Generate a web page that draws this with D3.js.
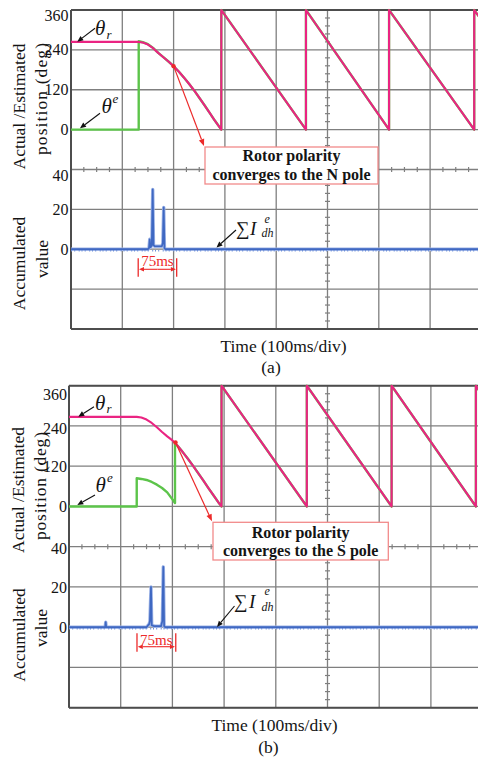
<!DOCTYPE html>
<html><head><meta charset="utf-8">
<script src="https://cdn.jsdelivr.net/npm/d3@7"></script>
<style>
html,body{margin:0;padding:0;background:#fff;}
svg{display:block;}
text{font-family:'Liberation Serif','Times New Roman',serif;}
</style></head><body>
<script>
// Scope time base: 10 divisions of 100 ms
const timeDomain = [0, 1000];
const timeDiv = 100;
const positionTicks = [0, 120, 240, 360];
const accumTicks = [0, 20, 40];
const windowMs = 75;

// (a) estimated polarity converges to the N pole  [time ms, angle deg]
const thetaR_A = [[0,264],[130,264],[140,262],[150,256],[160,245],[170,231],[180,218],[190,205],[200,191],[210,175],[220,157],[230,138],[240,118],[250,96],[260,74],[270,51],[280,28],[293,0],[293,360],[458,0],[458,360],[620,0],[620,360],[786,0],[786,360],[800,330]];
const thetaE_A = [[0,0],[132,0],[132,266],[140,263],[150,257],[160,246],[170,231],[180,218],[190,205],[200,191],[210,175],[220,157],[230,138],[240,118],[250,96],[260,74],[270,51],[280,28],[293,0],[293,360],[458,0],[458,360],[620,0],[620,360],[786,0],[786,360],[800,330]];
const accum_A = [[0,0],[150,0],[152,0.5],[153.5,5],[155,1],[157.5,2],[159.3,30],[160.8,2],[163,1.5],[172,1.5],[177,1.5],[179,3],[180.7,21],[182.2,0.5],[184,0],[1000,0]];

// (b) estimated polarity converges to the S pole
const thetaR_B = [[0,267],[131,267],[140,265],[150,259],[160,249],[170,236],[180,222],[190,209],[200,197],[210,181],[220,162],[230,142],[240,121],[250,99],[260,77],[270,54],[280,32],[290,10],[295,0],[295,360],[460,0],[460,360],[624,0],[624,360],[787,0],[787,360],[800,331]];
const thetaE_B = [[0,0],[131,0],[131,84],[140,82],[150,79],[160,73],[170,65],[180,55],[190,42],[200,21],[205,10],[205,189],[210,181],[220,162],[230,142],[240,121],[250,99],[260,77],[270,54],[280,32],[290,10],[295,0],[295,360],[460,0],[460,360],[624,0],[624,360],[787,0],[787,360],[800,331]];
const accum_B = [[0,0],[70,0],[71,2.5],[72,0],[150,0],[153,1],[155,1.5],[156.5,3],[158.6,20],[160,1],[165,0.5],[178,0.5],[180.5,3],[182.4,30],[184,0.5],[186,0],[1000,0]];

const W = 478, H = 761;
const svg = d3.select('body').append('svg').attr('width', W).attr('height', H);
svg.append('rect').attr('width', W).attr('height', H).attr('fill', '#fff');

const C = {
  grid: '#7f7f7f', frame: '#4d4d4d', green: '#5cc44a', magenta: '#ea2482',
  blue: '#3f68c2', blueHalo: '#9db3e6', red: '#ec2a2a', boxStroke: '#f28a8a', ink: '#141414'
};

const panels = [
  { id: 'a', left: 71, top: 10, dx: 51.3, dy: 39.87,
    thetaR: thetaR_A, thetaE: thetaE_A, accum: accum_A, polarity: 'N',
    tickPad: 2.5, nudge: { pos: { 360: 5 }, acc: { 40: 5.5 } },
    titles: { actual: [24.5, 106.5], position: [47, 99, 112], accumulated: [25, 263.5], value: [47.5, 259] },
    time: [283.5, 352], caption: ['(a)', 271, 373],
    thR: { th: [95, 35], sub: [106.5, 38.5], arrow: [95, 28.3, 77.3, 41.7] },
    thE: { th: [101.5, 113], sup: [112.5, 103], arrow: [100, 113.3, 80, 128.3] },
    sigma: { s: [236, 235], I: [250, 235], sup: [264.5, 223], sub: [261.5, 237], arrow: [236, 230, 216.5, 247.5] },
    box: [205, 147, 173, 37, 161, 179.5], conv: [200, 191],
    bracket: { start: 131, y1: 258.3, y2: 276.7, yl: 269.3, yt: 265.5 } },
  { id: 'b', left: 69, top: 385.7, dx: 51.7, dy: 40.25,
    thetaR: thetaR_B, thetaE: thetaE_B, accum: accum_B, polarity: 'S',
    tickPad: 2, nudge: { pos: { 360: 9, 240: 2 }, acc: { 40: 2 } },
    titles: { actual: [24, 490], position: [46, 486, 108], accumulated: [25, 635], value: [46.5, 628] },
    time: [274.5, 731], caption: ['(b)', 268.5, 753],
    thR: { th: [95, 410], sub: [106.5, 413], arrow: [94, 406.7, 78.3, 416.7] },
    thE: { th: [95.5, 492], sup: [107, 482], arrow: [95, 495, 77.3, 505] },
    sigma: { s: [234, 608], I: [249, 608], sup: [264.5, 594.5], sub: [261.5, 610.5], arrow: [234.5, 606, 217, 627] },
    box: [213, 522.3, 175.3, 37.7, 537.5, 555.5], conv: [206, 191],
    bracket: { start: 131.5, y1: 633.3, y2: 651.7, yl: 646.7, yt: 644.5 } }
];

function arrowHead(g, x1, y1, x2, y2, color, len, half) {
  const a = Math.atan2(y2 - y1, x2 - x1);
  const bx = x2 - len * Math.cos(a), by = y2 - len * Math.sin(a);
  const px = -Math.sin(a) * half, py = Math.cos(a) * half;
  g.append('path')
    .attr('d', `M${x2},${y2}L${bx + px},${by + py}L${bx - px},${by - py}Z`)
    .attr('fill', color);
  return [bx, by];
}

function arrow(g, x1, y1, x2, y2, color, width, len, half) {
  const [bx, by] = arrowHead(g, x1, y1, x2, y2, color, len, half);
  g.append('line').attr('x1', x1).attr('y1', y1).attr('x2', bx).attr('y2', by)
    .attr('stroke', color).attr('stroke-width', width);
}

function drawPanel(p) {
  const g = svg.append('g');
  const PW = 10 * p.dx, PH = 8 * p.dy;
  const x = d3.scaleLinear().domain(timeDomain).range([p.left, p.left + PW]);
  const row = d3.scaleLinear().domain([0, 8]).range([p.top, p.top + PH]);
  const yPos = d3.scaleLinear().domain([0, 360]).range([row(3), row(0)]);
  const yAcc = d3.scaleLinear().domain([0, 40]).range([row(6), row(4)]);

  // grid
  const grid = g.append('g');
  grid.selectAll('line.v').data(d3.range(timeDomain[0], timeDomain[1] + 1, timeDiv)).join('line')
    .attr('x1', d => x(d)).attr('x2', d => x(d)).attr('y1', row(0)).attr('y2', row(8))
    .attr('stroke', C.grid).attr('stroke-width', 1.3);
  grid.selectAll('line.h').data(d3.range(0, 9)).join('line')
    .attr('x1', x(0)).attr('x2', x(1000)).attr('y1', d => row(d)).attr('y2', d => row(d))
    .attr('stroke', C.grid).attr('stroke-width', 1.3);
  // frame
  [[x(0), row(0), x(1000), row(0)], [x(0), row(8), x(1000), row(8)], [x(0), row(0), x(0), row(8)]]
    .forEach(s => grid.append('line').attr('x1', s[0]).attr('y1', s[1]).attr('x2', s[2]).attr('y2', s[3])
      .attr('stroke', C.frame).attr('stroke-width', 2));
  // minor ticks on the centre axes
  const cx = x(500), cy = row(4);
  grid.selectAll('line.mx').data(d3.range(0, 1001, 25).filter(t => t % 100)).join('line')
    .attr('x1', d => x(d)).attr('x2', d => x(d)).attr('y1', cy - 2.5).attr('y2', cy + 2.5)
    .attr('stroke', C.grid).attr('stroke-width', 1.2);
  grid.selectAll('line.my').data(d3.range(0, 40).filter(i => i % 5).map(i => i / 5)).join('line')
    .attr('x1', cx - 2.5).attr('x2', cx + 2.5).attr('y1', d => row(d)).attr('y2', d => row(d))
    .attr('stroke', C.grid).attr('stroke-width', 1.2);

  // traces
  const clipId = 'clip-' + p.id;
  g.append('clipPath').attr('id', clipId).append('rect')
    .attr('x', x(0)).attr('y', row(0) - 1.5).attr('width', PW).attr('height', PH + 1.5);
  const tr = g.append('g').attr('clip-path', `url(#${clipId})`);
  const posLine = d3.line().x(d => x(d[0])).y(d => yPos(d[1]));
  const accLine = d3.line().x(d => x(d[0])).y(d => yAcc(d[1]));
  tr.append('path').attr('d', posLine(p.thetaE)).attr('fill', 'none')
    .attr('stroke', C.green).attr('stroke-width', 2.4).attr('stroke-linejoin', 'round');
  tr.append('path').attr('d', posLine(p.thetaR)).attr('fill', 'none')
    .attr('stroke', C.magenta).attr('stroke-width', 2.1).attr('stroke-linejoin', 'round');
  tr.append('path').attr('d', accLine(p.accum)).attr('fill', 'none')
    .attr('stroke', C.blueHalo).attr('stroke-width', 3.4).attr('stroke-linejoin', 'round');
  tr.append('path').attr('d', accLine(p.accum)).attr('fill', 'none')
    .attr('stroke', C.blue).attr('stroke-width', 1.7).attr('stroke-linejoin', 'round');
  // sampling ripple along the zero level
  tr.append('line').attr('x1', x(0)).attr('x2', x(1000))
    .attr('y1', yAcc(0) + 1.6).attr('y2', yAcc(0) + 1.6)
    .attr('stroke', '#6d8fd8').attr('stroke-width', 1.4).attr('stroke-dasharray', '1 2.2 1 3.5 1 1.8');

  // tick labels
  const axPos = g.append('g').attr('transform', `translate(${p.left},0)`)
    .call(d3.axisLeft(yPos).tickValues(positionTicks).tickSize(0).tickPadding(p.tickPad));
  const axAcc = g.append('g').attr('transform', `translate(${p.left},0)`)
    .call(d3.axisLeft(yAcc).tickValues(accumTicks).tickSize(0).tickPadding(p.tickPad));
  [[axPos, p.nudge.pos], [axAcc, p.nudge.acc]].forEach(([ax, nudge]) => {
    ax.select('.domain').remove();
    ax.selectAll('text').attr('font-family', "'Liberation Serif','Times New Roman',serif")
      .attr('font-size', 16).attr('fill', C.ink)
      .attr('transform', d => `translate(0,${nudge[d] || 0})`);
  });

  // axis titles
  const T = p.titles;
  const vtext = (pos, str, len) => {
    const t = g.append('text').attr('transform', `translate(${pos[0]},${pos[1]}) rotate(-90)`)
      .attr('text-anchor', 'middle').attr('font-size', 17.5).attr('fill', C.ink).text(str);
    if (len) t.attr('textLength', len).attr('lengthAdjust', 'spacing');
  };
  vtext(T.actual, 'Actual /Estimated');
  vtext(T.position, 'position (deg)', T.position[2]);
  vtext(T.accumulated, 'Accumulated');
  vtext(T.value, 'value');
  g.append('text').attr('x', p.time[0]).attr('y', p.time[1]).attr('text-anchor', 'middle')
    .attr('font-size', 17.5).attr('fill', C.ink).text('Time (100ms/div)');
  g.append('text').attr('x', p.caption[1]).attr('y', p.caption[2]).attr('text-anchor', 'middle')
    .attr('font-size', 17.5).attr('fill', C.ink).text(p.caption[0]);

  // trace labels
  const lab = g.append('g').attr('fill', C.ink).attr('font-style', 'italic');
  lab.append('text').attr('x', p.thR.th[0]).attr('y', p.thR.th[1]).attr('font-size', 21).text('θ');
  lab.append('text').attr('x', p.thR.sub[0]).attr('y', p.thR.sub[1]).attr('font-size', 13).text('r');
  lab.append('text').attr('x', p.thE.th[0]).attr('y', p.thE.th[1]).attr('font-size', 21).text('θ');
  lab.append('text').attr('x', p.thE.sup[0]).attr('y', p.thE.sup[1]).attr('font-size', 13).text('e');
  g.append('text').attr('x', p.sigma.s[0]).attr('y', p.sigma.s[1]).attr('font-size', 19).attr('fill', C.ink).text('∑');
  lab.append('text').attr('x', p.sigma.I[0]).attr('y', p.sigma.I[1]).attr('font-size', 19).text('I');
  lab.append('text').attr('x', p.sigma.sup[0]).attr('y', p.sigma.sup[1]).attr('font-size', 12).text('e');
  lab.append('text').attr('x', p.sigma.sub[0]).attr('y', p.sigma.sub[1]).attr('font-size', 12).text('dh');
  [p.thR.arrow, p.thE.arrow, p.sigma.arrow].forEach(a => arrow(g, a[0], a[1], a[2], a[3], '#111', 1.1, 6, 2.6));

  // 75 ms detection window
  const b = p.bracket, bx1 = x(b.start), bx2 = x(b.start + windowMs);
  const br = g.append('g');
  [bx1, bx2].forEach(bx => br.append('line').attr('x1', bx).attr('x2', bx).attr('y1', b.y1).attr('y2', b.y2)
    .attr('stroke', C.red).attr('stroke-width', 1.3));
  const mid = (bx1 + bx2) / 2;
  arrow(br, mid, b.yl, bx1 + 0.8, b.yl, C.red, 1.1, 5, 2.3);
  arrow(br, mid, b.yl, bx2 - 0.8, b.yl, C.red, 1.1, 5, 2.3);
  br.append('text').attr('x', mid).attr('y', b.yt).attr('text-anchor', 'middle')
    .attr('font-size', 15).attr('fill', C.red).text(windowMs + 'ms');

  // convergence call-out
  const bx = p.box;
  const sx = x(p.conv[0]), sy = yPos(p.conv[1]);
  arrow(g, sx, sy, bx[0] - 1, bx[1] - 1, C.red, 1.2, 7, 2.8);
  g.append('circle').attr('cx', sx).attr('cy', sy).attr('r', 2.2).attr('fill', C.red);
  g.append('rect').attr('x', bx[0]).attr('y', bx[1]).attr('width', bx[2]).attr('height', bx[3])
    .attr('fill', '#fff').attr('stroke', C.boxStroke).attr('stroke-width', 1.3);
  const tx = bx[0] + bx[2] / 2;
  g.append('text').attr('x', tx).attr('y', bx[4]).attr('text-anchor', 'middle')
    .attr('font-size', 16).attr('font-weight', 'bold').attr('fill', C.ink).text('Rotor polarity');
  g.append('text').attr('x', tx).attr('y', bx[5]).attr('text-anchor', 'middle')
    .attr('font-size', 16).attr('font-weight', 'bold').attr('fill', C.ink)
    .text(`converges to the ${p.polarity} pole`);
}

panels.forEach(drawPanel);
</script>
</body></html>
